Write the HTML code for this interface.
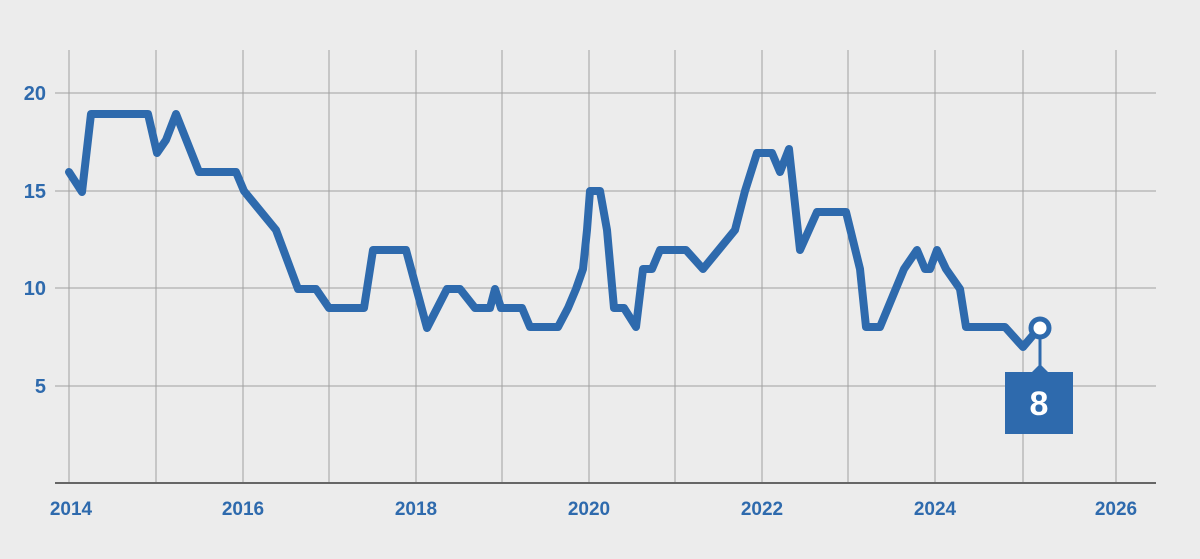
<!DOCTYPE html>
<html><head><style>
html,body{margin:0;padding:0;background:#ececec;}
svg{display:block;}
text{font-family:"Liberation Sans",sans-serif;font-weight:bold;fill:#2e6aad;}
</style></head><body>
<svg width="1200" height="559" viewBox="0 0 1200 559">
<rect width="1200" height="559" fill="#ececec"/>
<g stroke="#a0a0a0" stroke-width="1">
<line x1="69" y1="50" x2="69" y2="483"/><line x1="156" y1="50" x2="156" y2="483"/>
<line x1="243" y1="50" x2="243" y2="483"/><line x1="329" y1="50" x2="329" y2="483"/>
<line x1="416" y1="50" x2="416" y2="483"/><line x1="502" y1="50" x2="502" y2="483"/>
<line x1="589" y1="50" x2="589" y2="483"/><line x1="675" y1="50" x2="675" y2="483"/>
<line x1="762" y1="50" x2="762" y2="483"/><line x1="848" y1="50" x2="848" y2="483"/>
<line x1="935" y1="50" x2="935" y2="483"/><line x1="1023" y1="50" x2="1023" y2="483"/>
<line x1="1116" y1="50" x2="1116" y2="483"/>
<line x1="55" y1="93" x2="1156" y2="93"/><line x1="55" y1="191" x2="1156" y2="191"/>
<line x1="55" y1="288" x2="1156" y2="288"/><line x1="55" y1="386" x2="1156" y2="386"/>
</g>
<line x1="55" y1="483" x2="1156" y2="483" stroke="#666" stroke-width="2"/>
<g font-size="20" text-anchor="end">
<text x="46" y="100">20</text><text x="46" y="198">15</text><text x="46" y="295">10</text><text x="46" y="393">5</text>
</g>
<g font-size="19" text-anchor="middle">
<text x="71" y="515">2014</text><text x="243" y="515">2016</text><text x="416" y="515">2018</text>
<text x="589" y="515">2020</text><text x="762" y="515">2022</text><text x="935" y="515">2024</text><text x="1116" y="515">2026</text>
</g>
<polyline fill="none" stroke="#2e6aad" stroke-width="8" stroke-linejoin="round" stroke-linecap="round"
points="69,172 82,192 91,114 148,114 157,153 166,140 176,114 199,172 236,172 244,191 276,230 298,289 316,289 329,308 364,308 373,250 406,250 427,328 447,289 460,289 475,308 490,308 495,289 501,308 522,308 530,327 558,327 568,308 576,289 583,269 587,230 590,191 600,191 607,230 614,308 624,308 636,327 643,269 652,269 660,250 686,250 703,269 735,230 745,191 757,153 772,153 780,172 789,149 800,250 817,212 846,212 860,269 866,327 880,327 904,269 917,250 925,269 930,269 937,250 946,269 960,289 966,327 1005,327 1023,347 1034,334"/>
<line x1="1040" y1="336" x2="1040" y2="368" stroke="#2e6aad" stroke-width="3"/>
<polygon points="1032,372 1040,364 1048,372" fill="#2e6aad"/>
<rect x="1005" y="372" width="68" height="62" fill="#2e6aad"/>
<circle cx="1040" cy="328" r="9" fill="#fff" stroke="#2e6aad" stroke-width="5"/>
<text x="1039" y="415" font-size="34" text-anchor="middle" style="fill:#fff">8</text>
</svg>
</body></html>
